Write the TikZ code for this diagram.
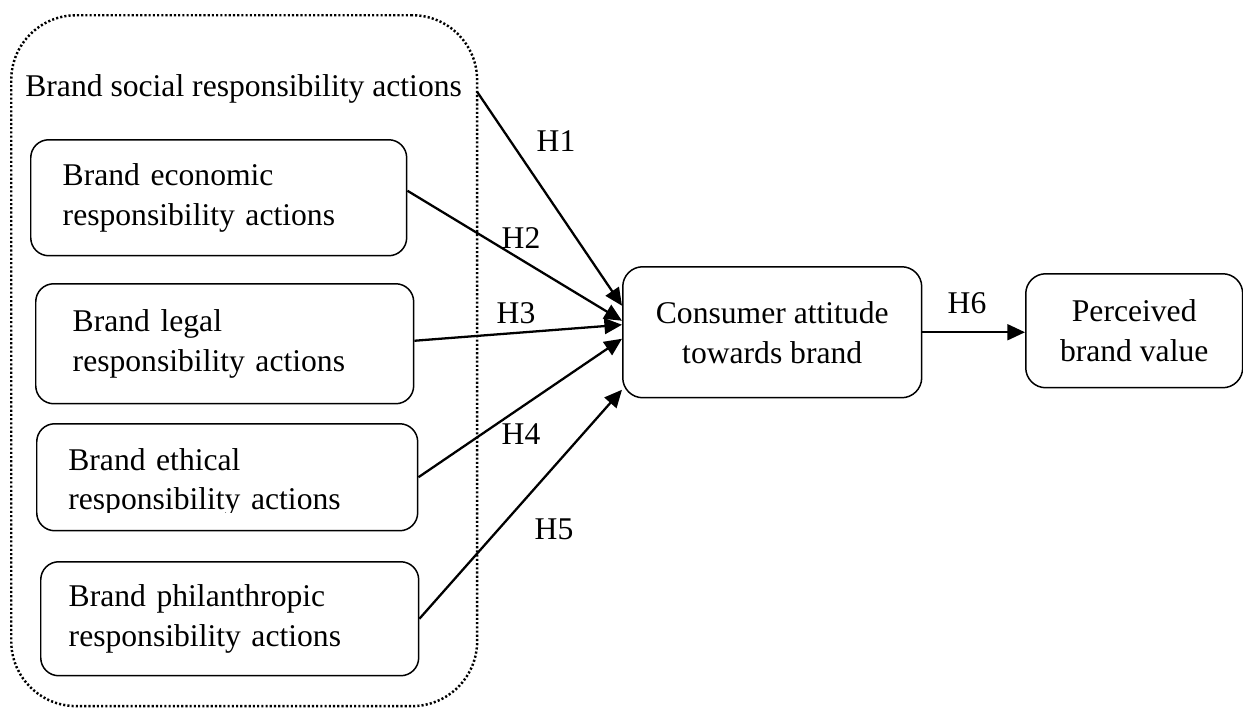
\documentclass[tikz,border=0pt]{standalone}
\usepackage{fontspec}
\setmainfont{Liberation Serif}
\usetikzlibrary{arrows.meta}
\begin{document}
\begin{tikzpicture}[x=0.02cm,y=-0.02cm,
  every node/.style={font=\fontsize{18}{22.7}\selectfont, inner sep=0pt},
  rbox/.style={draw, line width=0.85pt, rounded corners=0.36cm, anchor=north west, align=left},
  cbox/.style={draw, line width=0.85pt, rounded corners=0.4cm, anchor=north west, align=center},
  grpbox/.style={draw, line width=1.4pt, dash pattern=on 1.2pt off 1.2pt, rounded corners=1.3cm, anchor=north west},
  conn/.style={line width=1.3pt, -{Triangle[length=10pt,width=9pt]}}]
\useasboundingbox (0,0) rectangle (1243,708);

\node[grpbox, minimum width=9.32cm, minimum height=13.82cm] (grp) at (10,14) {};
\node[anchor=base west] (title) at (25,96) {Brand social responsibility actions};

\node[rbox, minimum width=7.52cm, minimum height=2.32cm, text width=6.24cm, inner xsep=0.64cm] (eco) at (30,139) {Brand economic\\responsibility actions};
\node[rbox, minimum width=7.56cm, minimum height=2.4cm, text width=6.08cm, inner xsep=0.74cm] (legal) at (35,283) {Brand legal\\responsibility actions};
\node[rbox, minimum width=7.62cm, minimum height=2.14cm] (eth) at (36,423) {};
\begin{scope}
  \clip (36,423) rectangle (417,512);
  \node[anchor=base west, text width=7cm, align=left] (etht) at (68,470) {Brand ethical\\responsibility actions};
\end{scope}
\node[rbox, minimum width=7.56cm, minimum height=2.28cm, text width=6.44cm, inner xsep=0.56cm] (phil) at (40,561) {Brand philanthropic\\responsibility actions};

\node[cbox, minimum width=5.98cm, minimum height=2.62cm] (con) at (622,266) {Consumer attitude\\towards brand};
\node[cbox, minimum width=4.34cm, minimum height=2.28cm] (per) at (1025,273) {Perceived\\brand value};

\draw[conn] ([xshift=0.3cm,yshift=-0.07cm]title.east) -- ([yshift=0.53cm]con.west);
\draw[conn] ([yshift=0.14cm]eco.east) -- ([yshift=0.23cm]con.west);
\draw[conn] ([yshift=0.06cm]legal.east) -- ([yshift=0.15cm]con.west);
\draw[conn] (eth.east) -- ([yshift=-0.13cm]con.west);
\draw[conn] (phil.east) -- ([yshift=-1.15cm]con.west);
\draw[conn] (con.east) -- (con.east -| per.west);

\node (h1) at (556,141) {H1};
\node (h2) at (521,238) {H2};
\node (h3) at (516,313) {H3};
\node (h4) at (521,434) {H4};
\node (h5) at (554,529) {H5};
\node (h6) at (967,303) {H6};
\end{tikzpicture}
\end{document}
